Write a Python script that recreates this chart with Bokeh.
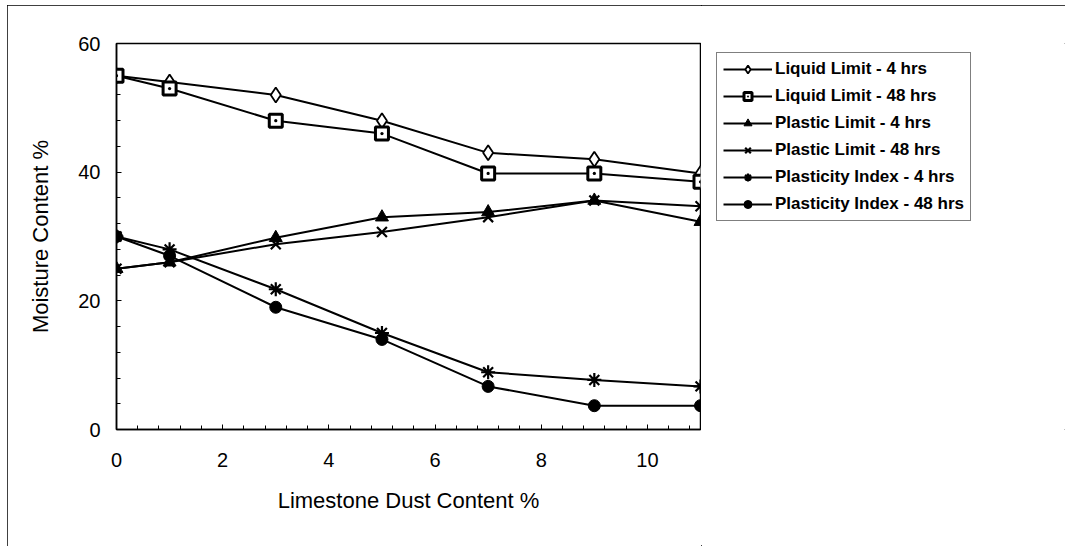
import numpy as np
from bokeh.plotting import figure
from bokeh.layouts import row
from bokeh.models import Legend, LegendItem, FixedTicker, Range1d
from bokeh.embed import file_html
from bokeh.resources import INLINE

# ---- data ----
dust = [0, 1, 3, 5, 7, 9, 11]
liquid_4 = [55, 54, 52, 48, 43, 42, 39.8]
liquid_48 = [55, 53, 48, 46, 39.8, 39.8, 38.5]
plastic_4 = [25, 26, 29.8, 33, 33.8, 35.6, 32.3]
plastic_48 = [25, 26, 28.8, 30.7, 33, 35.6, 34.7]
pindex_4 = [30, 28, 21.8, 15, 8.9, 7.7, 6.7]
pindex_48 = [30, 27, 19, 14, 6.7, 3.7, 3.7]
x_ticks = [0, 2, 4, 6, 8, 10]
y_ticks = [0, 20, 40, 60]
labels = ["Liquid Limit - 4 hrs", "Liquid Limit - 48 hrs", "Plastic Limit - 4 hrs",
          "Plastic Limit - 48 hrs", "Plasticity Index - 4 hrs", "Plasticity Index - 48 hrs"]

FONT = "Liberation Sans"
H = 541

p = figure(width=694, height=H, output_backend="svg", toolbar_location=None,
           x_range=Range1d(0, 11), y_range=Range1d(0, 60),
           min_border_left=109, min_border_right=1, min_border_top=38, min_border_bottom=117)
p.background_fill_color = "white"
p.border_fill_color = "white"
p.outline_line_color = "black"
p.outline_line_width = 1.5
p.grid.visible = False

p.xaxis.ticker = FixedTicker(ticks=x_ticks, minor_ticks=list(np.round(np.arange(0, 11.01, 0.4), 2)))
p.yaxis.ticker = FixedTicker(ticks=y_ticks, minor_ticks=list(range(0, 61, 4)))
for ax in (p.xaxis[0], p.yaxis[0]):
    ax.major_tick_in = 5
    ax.major_tick_out = 0
    ax.minor_tick_in = 4
    ax.minor_tick_out = 0
    ax.axis_line_color = "black"
    ax.axis_line_width = 1.5
    ax.major_tick_line_color = "black"
    ax.minor_tick_line_color = "black"
    ax.major_label_text_font = FONT
    ax.major_label_text_font_size = "20px"
    ax.major_label_text_color = "black"
    ax.axis_label_text_font = FONT
    ax.axis_label_text_font_size = "22px"
    ax.axis_label_text_font_style = "normal"
    ax.axis_label_text_color = "black"

p.xaxis.axis_label = "Limestone Dust Content %"
p.yaxis.axis_label = "Moisture Content %"
p.xaxis.major_label_standoff = 23
p.xaxis.axis_label_standoff = 18
p.yaxis.major_label_standoff = 16
p.yaxis.axis_label_standoff = 22

LW = 2
styles = [
    dict(marker="diamond", size=15, fill_color="white", line_color="black", line_width=1.8),
    dict(marker="square_dot", size=13, fill_color="white", line_color="black", line_width=3),
    dict(marker="triangle", size=13, fill_color="black", line_color="black", line_width=1),
    dict(marker="x", size=14, line_color="black", line_width=2.2),
    dict(marker="asterisk", size=14, line_color="black", line_width=2.2),
    dict(marker="circle", size=12, fill_color="black", line_color="black", line_width=1),
]
series = [liquid_4, liquid_48, plastic_4, plastic_48, pindex_4, pindex_48]

for ys, st in zip(series, styles):
    p.line(dust, ys, line_color="black", line_width=LW)
    p.scatter(dust, ys, **st)

# legend panel (separate figure to the right of the plot); its proxy
# renderers use the same data but lie outside this panel's visible range
lf = figure(width=364, height=H, output_backend="svg", toolbar_location=None,
            x_range=Range1d(100, 101), y_range=Range1d(100, 101),
            min_border_left=6, min_border_right=0, min_border_top=38, min_border_bottom=117)
lf.axis.visible = False
lf.grid.visible = False
lf.outline_line_color = None
lf.background_fill_color = "white"
lf.border_fill_color = "white"

items = []
for lab, ys, st in zip(labels, series, styles):
    lr = lf.line(dust, ys, line_color="black", line_width=LW)
    mr = lf.scatter(dust, ys, **st)
    items.append(LegendItem(label=lab, renderers=[lr, mr]))

legend = Legend(items=items, location="top_left")
legend.border_line_color = "black"
legend.border_line_width = 1.2
legend.background_fill_color = "white"
legend.background_fill_alpha = 1
legend.label_text_font = FONT
legend.label_text_font_style = "bold"
legend.label_text_font_size = "17px"
legend.label_text_color = "black"
legend.glyph_width = 49
legend.glyph_height = 20
legend.label_height = 20
legend.label_standoff = 3
legend.spacing = 7
legend.padding = 6
legend.margin = 9
lf.add_layout(legend, "center")

layout = row(p, lf, spacing=0)
layout.margin = (5, 0, 0, 7)
layout.styles = {"outline": "1px solid black", "outline-offset": "-1px"}

open("out.html", "w").write(file_html(layout, INLINE))
